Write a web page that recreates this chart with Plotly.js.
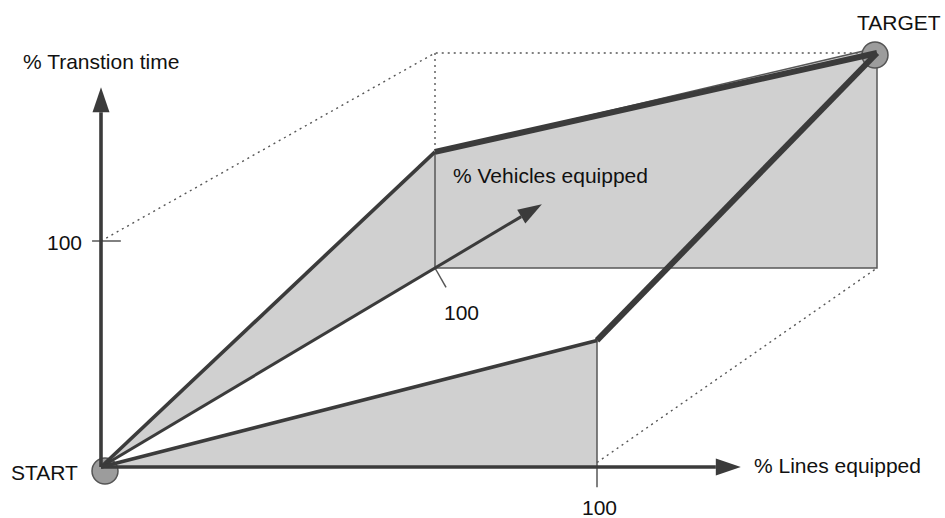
<!DOCTYPE html>
<html>
<head>
<meta charset="utf-8">
<script src="https://cdn.plot.ly/plotly-3.0.1.min.js"></script>
<style>
html,body{margin:0;padding:0;background:#fff;}
#chart{width:945px;height:518px;}
</style>
</head>
<body>
<div id="chart"></div>
<script>
// ---- Data: points as (% lines equipped, % vehicles equipped, % transition time) ----
const axisNames = ['% Lines equipped', '% Vehicles equipped', '% Transtion time'];
const tickLabels = ['100', '100', '100'];
const endLabels = ['START', 'TARGET'];

// path via vehicles first (upper path)
const upperPathL = [0, 0, 100];
const upperPathV = [0, 100, 100];
const upperPathT = [0, 54, 100];
// path via lines first (lower path)
const lowerPathL = [0, 100, 100];
const lowerPathV = [0, 0, 100];
const lowerPathT = [0, 56, 100];

const axisFull = 100;       // value of the "100" ticks
const axisReach = [129, 132, 168]; // how far each arrow extends (% units)

// ---- Oblique projection (layout, not data) ----
const P = {ox:101, oy:467, vx:334, vy:199, sx0:4.96, sx1:4.42, sy0:2.26, sy1:2.15};
function proj(L, V, T){
  const f = V/100;
  const x0 = P.ox + P.vx*f, y0 = P.oy - P.vy*f;
  const sx = P.sx0 + (P.sx1-P.sx0)*f, sy = P.sy0 + (P.sy1-P.sy0)*f;
  return [x0 + L*sx, y0 - T*sy];
}
function seg(list){
  const x=[], y=[];
  list.forEach(p=>{ if(p===null){x.push(null);y.push(null);} else {const q=proj(p[0],p[1],p[2]); x.push(q[0]); y.push(q[1]);} });
  return {x, y};
}
function arrowHead(from, to, len, hw){
  const a = proj(...from), b = proj(...to);
  const dx=b[0]-a[0], dy=b[1]-a[1], d=Math.hypot(dx,dy), ux=dx/d, uy=dy/d;
  const bx=b[0]-ux*len, by=b[1]-uy*len;
  return {tri:{x:[b[0], bx-uy*hw, bx+uy*hw, b[0]], y:[b[1], by+ux*hw, by-ux*hw, b[1]]},
          base:[bx,by], start:a};
}

const dark = '#3b3b3b', edge = '#575757', fill = '#d0d0d0';
const F = axisFull;
const upK = [upperPathL[1], upperPathV[1], upperPathT[1]];
const loK = [lowerPathL[1], lowerPathV[1], lowerPathT[1]];
const S = [upperPathL[0], upperPathV[0], upperPathT[0]];
const Tg = [upperPathL[2], upperPathV[2], upperPathT[2]];
const tgEdge = [Tg[0]-2.6, F, Tg[2]+1.2]; // where the plane's outline meets the target circle

const traces = [];
// gray planes
const upPoly = seg([S, upK, tgEdge, Tg, [F,F,0], [0,F,0], S]);
traces.push({x:upPoly.x, y:upPoly.y, mode:'lines', fill:'toself', fillcolor:fill, line:{width:0}, hoverinfo:'skip'});
const loPoly = seg([S, loK, [F,0,0], S]);
traces.push({x:loPoly.x, y:loPoly.y, mode:'lines', fill:'toself', fillcolor:fill, line:{width:0}, hoverinfo:'skip'});

// dotted guide lines
const dots = seg([[0,0,F],[0,F,F],[Tg[0]-3,F,F], null, [0,F,F], upK, null, [F,0,2],[F,F,0]]);
traces.push({x:dots.x, y:dots.y, mode:'lines', line:{color:edge, width:1.4, dash:'2px,4px'}, connectgaps:false, hoverinfo:'skip'});

// thin edges and ticks
const thin = seg([upK, [0,F,0], [F,F,0], [F,F,Tg[2]-3], null, loK, [F,0,-9], null,
                  [-1.8,0,F],[4,0,F], null, [0,F,0],[2.5,F,-9], null, upK, tgEdge]);
traces.push({x:thin.x, y:thin.y, mode:'lines', line:{color:edge, width:1.5}, connectgaps:false, hoverinfo:'skip'});

// end circles
const sP = proj(...S), tP = proj(...Tg);
traces.push({x:[sP[0]+4, tP[0]-2], y:[sP[1]+4, tP[1]+2], mode:'markers',
  marker:{size:26, color:'#9c9c9c', line:{color:'#555', width:1.5}}, hoverinfo:'skip'});

// axes with arrowheads
const axisEnds = [[axisReach[0],0,0],[0,axisReach[1],0],[0,0,axisReach[2]]];
const heads = [arrowHead(S, axisEnds[0], 25, 8.5), arrowHead(S, axisEnds[1], 24, 8), arrowHead(S, axisEnds[2], 25, 8.5)];
heads.forEach((h,i)=>{
  traces.push({x:[h.start[0], h.base[0]], y:[h.start[1], h.base[1]], mode:'lines',
    line:{color:dark, width: i===1 ? 3 : 3.6}, hoverinfo:'skip'});
  traces.push({x:h.tri.x, y:h.tri.y, mode:'lines', fill:'toself', fillcolor:dark, line:{width:0}, hoverinfo:'skip'});
});

// the two transition paths
const up1 = seg([S, upK]), up2 = seg([upK, Tg]);
const lo1 = seg([S, loK]), lo2 = seg([loK, Tg]);
traces.push({x:up1.x, y:up1.y, mode:'lines', line:{color:dark, width:3.6}, hoverinfo:'skip'});
traces.push({x:lo1.x, y:lo1.y, mode:'lines', line:{color:dark, width:3.6}, hoverinfo:'skip'});
traces.push({x:up2.x, y:up2.y, mode:'lines', line:{color:dark, width:6}, hoverinfo:'skip'});
traces.push({x:lo2.x, y:lo2.y, mode:'lines', line:{color:dark, width:6}, hoverinfo:'skip'});

const font = {family:'"Liberation Sans", Arial, sans-serif', size:21, color:'#111'};
function ann(text, x, y, xa){ return {text, x, y, xref:'x', yref:'y', xanchor:xa, yanchor:'middle', showarrow:false, font}; }
const annotations = [
  ann(axisNames[2], 21, 61, 'left'),
  ann(axisNames[1], 451, 175, 'left'),
  ann(axisNames[0], 752, 465, 'left'),
  ann(tickLabels[2], 64, 242, 'center'),
  ann(tickLabels[1], 461, 312, 'center'),
  ann(tickLabels[0], 599, 507, 'center'),
  ann(endLabels[0], 44, 472, 'center'),
  ann(endLabels[1], 899, 22, 'center')
];

Plotly.newPlot('chart', traces, {
  width:945, height:518, margin:{l:0,r:0,t:0,b:0},
  paper_bgcolor:'#fff', plot_bgcolor:'#fff', showlegend:false,
  xaxis:{range:[0,945], visible:false, fixedrange:true},
  yaxis:{range:[518,0], visible:false, fixedrange:true},
  annotations
}, {staticPlot:true, displayModeBar:false});
</script>
</body>
</html>
